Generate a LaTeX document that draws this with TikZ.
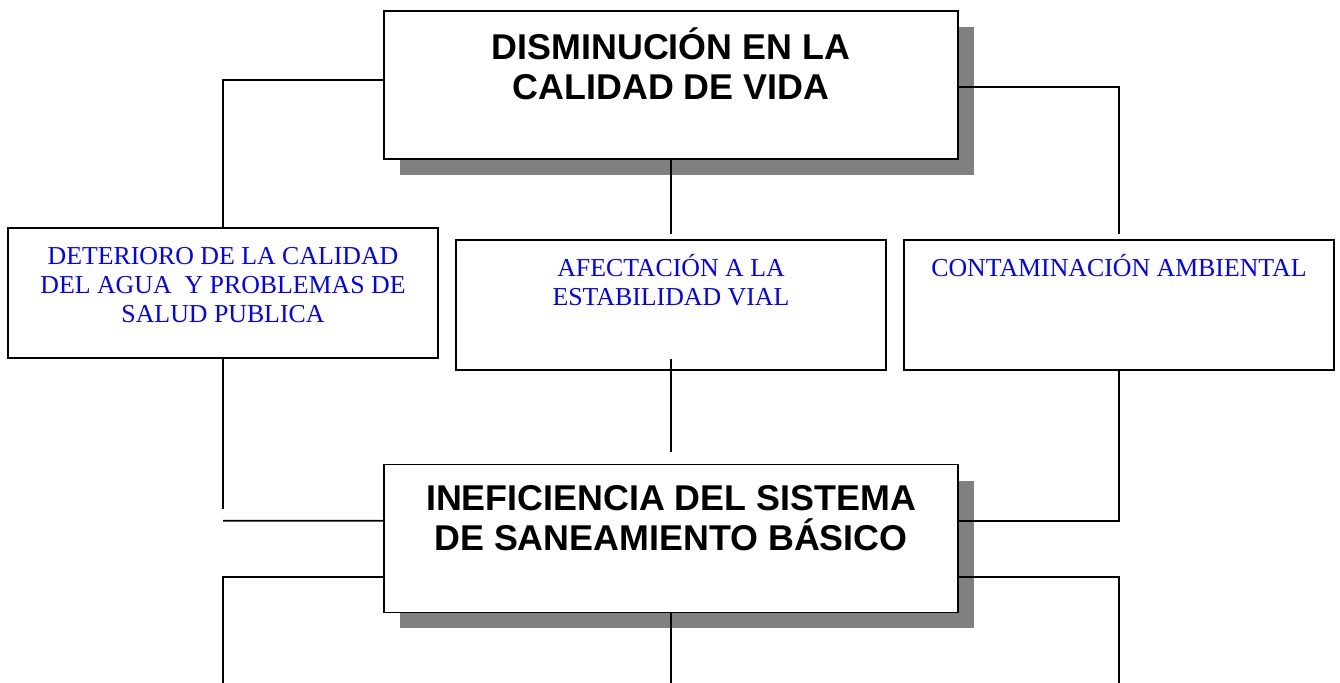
\documentclass[tikz,border=0pt]{standalone}
\usepackage{fontspec}
\setmainfont{Liberation Serif}
\setsansfont{Liberation Sans}
\usepackage{xcolor}
\usetikzlibrary{positioning, shadows}

\definecolor{azul}{RGB}{0,0,255}
\newcommand{\altoA}{\rule{0pt}{20pt}}
\newcommand{\altoB}{\rule{0pt}{14pt}}

\tikzset{
  caja/.style={draw, line width=1pt, fill=white, minimum width=11.48cm, minimum height=2.96cm, inner sep=0pt,
    drop shadow={shadow xshift=0.32cm, shadow yshift=-0.32cm, fill=black!50, opacity=1}},
  efecto/.style={draw, line width=1pt, fill=white, minimum width=8.6cm, minimum height=2.6cm, inner sep=0pt},
  titulo/.style={font=\sffamily\bfseries\fontsize{20.4}{22.8}\selectfont, align=center, anchor=north, inner sep=0pt},
  nota/.style={font=\fontsize{14.7}{16.5}\selectfont, text=azul, align=center, anchor=north, inner sep=0pt},
  linea/.style={line width=1pt}
}

\begin{document}
\begin{tikzpicture}[x=0.02cm, y=-0.02cm]
\useasboundingbox (0,0) rectangle (1340,683);

% problema central y efecto principal
\node[caja] (vida) at (671,85.3) {};
\node[titulo] (vida-txt) at ([yshift=-0.27cm]vida.north) {\altoA DISMINUCIÓN EN LA\\CALIDAD DE VIDA};
\node[caja] (saneamiento) at (671,538.5) {};
\node[titulo] (saneamiento-txt) at ([yshift=-0.22cm]saneamiento.north) {\altoA INEFICIENCIA DEL SISTEMA\\DE SANEAMIENTO BÁSICO};

% efectos
\node[efecto] (agua) at (223,293.3) {};
\node[nota] (agua-txt) at ([yshift=-0.25cm]agua.north) {\altoB DETERIORO DE LA CALIDAD\\DEL AGUA\ \ Y PROBLEMAS DE\\SALUD PUBLICA};
\node[efecto] (vial) at (671,305.2) {};
\node[nota] (vial-txt) at ([yshift=-0.25cm]vial.north) {\altoB AFECTACIÓN A LA\\ESTABILIDAD VIAL};
\node[efecto] (ambiente) at (1119,305.2) {};
\node[nota] (ambiente-txt) at ([yshift=-0.25cm]ambiente.north) {\altoB CONTAMINACIÓN AMBIENTAL};

% extremos sueltos
\coordinate (agua-fin) at (223,509);
\coordinate (izq-fin) at (223,520.7);
\coordinate (abajo-izq) at (223,683);
\coordinate (abajo-centro) at (671,683);
\coordinate (abajo-der) at (1119,683);

% conectores
\draw[linea] ([yshift=0.1cm]vida.west) -| (agua.north);
\draw[linea] (vida.south) -- ([yshift=0.1cm]vial.north);
\draw[linea] ([yshift=-0.03cm]vida.east) -| ([yshift=0.1cm]ambiente.north);
\draw[linea] (agua.south) -- (agua-fin);
\draw[linea] ([yshift=0.356cm]saneamiento.west) -- (izq-fin);
\draw[linea] ([yshift=0.24cm]vial.south) -- ([yshift=0.24cm]saneamiento.north);
\draw[linea] (ambiente.south) |- ([yshift=0.35cm]saneamiento.east);
\draw[linea] ([yshift=-0.77cm]saneamiento.west) -| (abajo-izq);
\draw[linea] (saneamiento.south) -- (abajo-centro);
\draw[linea] ([yshift=-0.77cm]saneamiento.east) -| (abajo-der);
\end{tikzpicture}
\end{document}
